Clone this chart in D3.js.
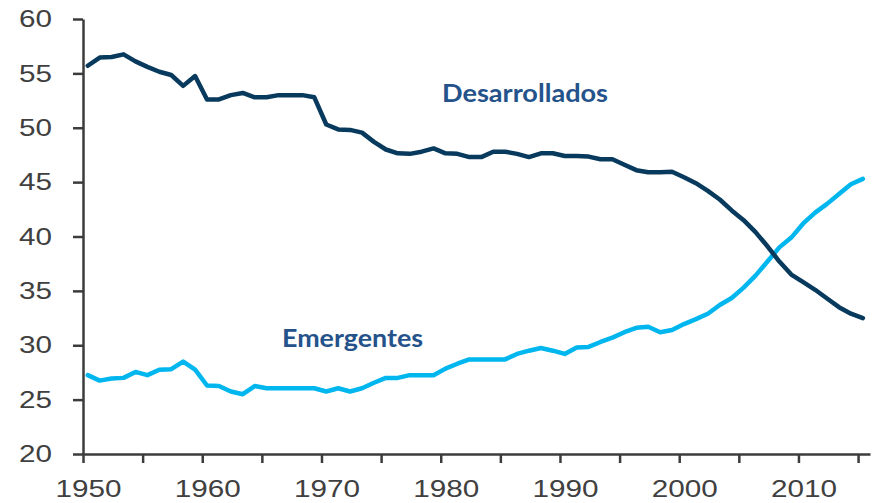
<!DOCTYPE html>
<html lang="es">
<head>
<meta charset="UTF-8">
<title>Desarrollados vs Emergentes</title>
<script src="https://cdn.jsdelivr.net/npm/d3@7/dist/d3.min.js"></script>
<style>
  body { margin: 0; background: #fff; }
  svg { display: block; }
</style>
</head>
<body>
<div class="chart"></div>
<script>
    // datos anuales 1950-2015
    const years = d3.range(1950, 2016)
    const desarrollados = [
        55.7, 56.45, 56.5, 56.75, 56.1, 55.6, 55.15, 54.85, 53.85, 54.75,
        52.6, 52.6, 53.0, 53.2, 52.8, 52.8, 53.0, 53.0, 53.0, 52.8,
        50.3, 49.85, 49.8, 49.55, 48.7, 48.0, 47.65, 47.6, 47.8, 48.1,
        47.65, 47.6, 47.3, 47.3, 47.8, 47.8, 47.6, 47.3, 47.65, 47.65,
        47.4, 47.4, 47.35, 47.1, 47.1, 46.6, 46.1, 45.9, 45.9, 45.95,
        45.45, 44.9, 44.2, 43.4, 42.4, 41.5, 40.4, 39.1, 37.7, 36.5,
        35.8, 35.1, 34.3, 33.5, 32.9, 32.5
    ]
    const emergentes = [
        27.25, 26.75, 26.95, 27.0, 27.55, 27.25, 27.75, 27.8, 28.5, 27.75,
        26.3, 26.25, 25.75, 25.5, 26.25, 26.05, 26.05, 26.05, 26.05, 26.05,
        25.75, 26.05, 25.75, 26.05, 26.55, 27.0, 27.0, 27.25, 27.25, 27.25,
        27.85, 28.3, 28.7, 28.7, 28.7, 28.7, 29.2, 29.5, 29.75, 29.5,
        29.2, 29.8, 29.85, 30.3, 30.7, 31.2, 31.6, 31.7, 31.2, 31.4,
        31.95, 32.4, 32.9, 33.7, 34.35, 35.3, 36.4, 37.7, 39.0, 39.9,
        41.2, 42.2, 43.0, 43.9, 44.8, 45.3
    ]
    const yTicks = [20, 25, 30, 35, 40, 45, 50, 55, 60]
    const xTicks = d3.range(1950, 2016, 5)
    const xLabels = [1950, 1960, 1970, 1980, 1990, 2000, 2010]

    const width = 877
    const height = 503
    const padding = { top: 19, right: 7, bottom: 49, left: 83 }
    const midYear = 0.4

    const svg = d3.select('.chart')
        .append('svg')
        .attr('width', width)
        .attr('height', height)

    const xScale = d3.scaleLinear()
        .domain([1950, 2016])
        .range([padding.left, width - padding.right])
    const yScale = d3.scaleLinear()
        .domain([20, 60])
        .range([height - padding.bottom, padding.top])

    const axisColor = '#3c3c3c'
    const labelColor = '#404040'

    // eje Y
    const gY = svg.append('g')
        .attr('transform', `translate(${padding.left}, 0)`)
        .call(d3.axisLeft(yScale).tickValues(yTicks).tickSize(10).tickSizeOuter(0).tickPadding(21))
    // eje X
    const gX = svg.append('g')
        .attr('transform', `translate(0, ${height - padding.bottom})`)
        .call(d3.axisBottom(xScale).tickValues(xTicks).tickSize(9).tickSizeOuter(0).tickPadding(17)
            .tickFormat(d => xLabels.includes(d) ? d3.format('d')(d) : ''))

    svg.selectAll('.domain, .tick line')
        .attr('stroke', axisColor)
        .attr('stroke-width', 2.5)
    svg.selectAll('.tick text')
        .attr('fill', labelColor)
        .attr('font-family', '"Liberation Sans", Arial, sans-serif')
        .attr('font-size', '24px')
    gY.selectAll('.tick text')
        .attr('textLength', 33)
        .attr('lengthAdjust', 'spacingAndGlyphs')
    gX.selectAll('.tick text')
        .attr('dx', 5)
        .attr('textLength', d => xLabels.includes(d) ? 66 : null)
        .attr('lengthAdjust', 'spacingAndGlyphs')

    const line = d3.line()
        .x((d, i) => xScale(years[i] + midYear))
        .y(d => yScale(d))

    svg.append('path')
        .datum(emergentes)
        .attr('fill', 'none')
        .attr('stroke', '#00b6ef')
        .attr('stroke-width', 4.5)
        .attr('stroke-linejoin', 'round')
        .attr('stroke-linecap', 'round')
        .attr('d', line)

    svg.append('path')
        .datum(desarrollados)
        .attr('fill', 'none')
        .attr('stroke', '#083a5e')
        .attr('stroke-width', 4.5)
        .attr('stroke-linejoin', 'round')
        .attr('stroke-linecap', 'round')
        .attr('d', line)

    // etiquetas de serie
    const seriesLabels = [
        { text: 'Desarrollados', x: 442, y: 102, w: 166 },
        { text: 'Emergentes', x: 282, y: 347, w: 141 }
    ]
    svg.selectAll('.serie')
        .data(seriesLabels)
        .enter()
        .append('text')
        .attr('class', 'serie')
        .attr('x', d => d.x)
        .attr('y', d => d.y)
        .attr('textLength', d => d.w)
        .attr('lengthAdjust', 'spacingAndGlyphs')
        .attr('fill', '#24528a')
        .attr('font-family', 'Lato, "Open Sans", sans-serif')
        .attr('font-weight', 'bold')
        .attr('font-size', '24px')
        .text(d => d.text)
</script>
</body>
</html>
